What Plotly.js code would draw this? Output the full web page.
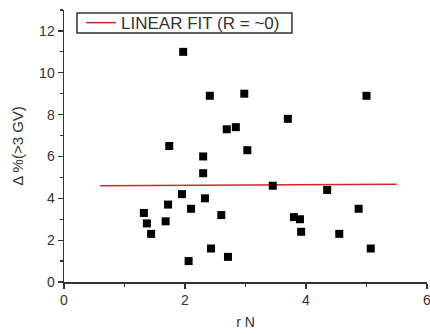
<!DOCTYPE html>
<html>
<head>
<meta charset="utf-8">
<script src="https://cdn.plot.ly/plotly-3.0.1.min.js"></script>
<style>html,body{margin:0;padding:0;background:#fff;}#chart{width:430px;height:334px;}</style>
</head>
<body>
<div id="chart"></div>
<script>
const rN = [1.32,1.37,1.44,1.68,1.72,1.74,1.95,1.97,2.06,2.10,2.30,2.30,2.33,2.41,2.43,2.60,2.69,2.71,2.84,2.98,3.03,3.45,3.70,3.80,3.90,3.92,4.35,4.55,4.87,5.00,5.07];
const deltaPct = [3.3,2.8,2.3,2.9,3.7,6.5,4.2,11.0,1.0,3.5,6.0,5.2,4.0,8.9,1.6,3.2,7.3,1.2,7.4,9.0,6.3,4.6,7.8,3.1,3.0,2.4,4.4,2.3,3.5,8.9,1.6];
const fitX = [0.6, 5.5];
const fitY = [4.6, 4.67];
const fitName = 'LINEAR FIT (R = ~0)';
const xTicks = [0,2,4,6];
const yTicks = [0,2,4,6,8,10,12];

const font = {family: '"Liberation Sans", Arial, sans-serif', color: '#333', size: 14};

const traces = [
  {x: fitX, y: fitY, mode: 'lines', name: fitName, line: {color: '#d62728', width: 1.5}, showlegend: true},
  {x: rN, y: deltaPct, mode: 'markers', marker: {symbol: 'square', size: 8, color: '#000'}, showlegend: false}
];

const axisCommon = {
  showgrid: false, zeroline: false, showline: true, linecolor: '#333', linewidth: 1.5,
  ticks: 'outside', ticklen: 5, tickwidth: 1.2, tickcolor: '#333',
  tickfont: {size: 14, color: '#333'}, ticklabeloverflow: 'allow'
};

const layout = {
  width: 430, height: 334,
  margin: {l: 64, r: 3, t: 10, b: 52},
  paper_bgcolor: '#fff', plot_bgcolor: '#fff',
  font: font,
  showlegend: true,
  legend: {x: 0.047, y: 1.018, xanchor: 'left', yanchor: 'top', borderwidth: 0,
           bgcolor: 'rgba(0,0,0,0)', font: {size: 17, color: '#333'}, tracegroupgap: 0},
  shapes: [
    {type: 'rect', xref: 'paper', yref: 'paper', x0: 0.0358, x1: 0.628, y0: 0.915, y1: 0.989,
     line: {color: '#333', width: 1.5}, fillcolor: 'rgba(0,0,0,0)', layer: 'above'}
  ],
  xaxis: Object.assign({}, axisCommon, {
    range: [0, 6], tickvals: xTicks, ticktext: xTicks.map(String),
    minor: {dtick: 1, tick0: 0, ticks: 'outside', ticklen: 3, tickcolor: '#333'},
    title: {text: 'r N', font: {size: 14, color: '#333'}, standoff: 10}
  }),
  yaxis: Object.assign({}, axisCommon, {
    range: [0, 13], tickvals: yTicks, ticktext: yTicks.map(String),
    minor: {dtick: 1, tick0: 0, ticks: 'outside', ticklen: 3, tickcolor: '#333'},
    title: {text: 'Δ %(>3 GV)', font: {size: 15, color: '#333'}, standoff: 12}
  })
};

Plotly.newPlot('chart', traces, layout, {staticPlot: true, displayModeBar: false});
</script>
</body>
</html>
